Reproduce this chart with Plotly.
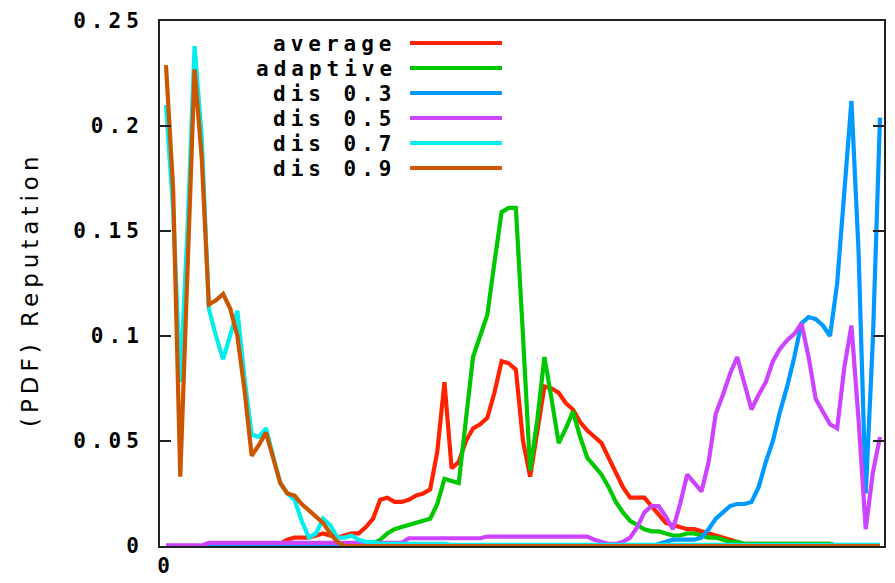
import plotly.graph_objects as go

# x grid: reputation 0.00 .. 1.00 in steps of 0.01
reputation = [round(i * 0.01, 2) for i in range(101)]

average = [
    0, 0, 0, 0, 0, 0, 0, 0, 0, 0,
    0, 0, 0, 0, 0, 0, 0.001, 0.003, 0.004, 0.004,
    0.004, 0.005, 0.006, 0.005, 0.004, 0.005, 0.006, 0.006, 0.009, 0.013,
    0.022, 0.023, 0.021, 0.021, 0.022, 0.024, 0.025, 0.027, 0.045, 0.078,
    0.037, 0.040, 0.050, 0.056, 0.058, 0.061, 0.073, 0.088, 0.087, 0.084,
    0.050, 0.033, 0.056, 0.076, 0.075, 0.073, 0.068, 0.065, 0.059, 0.055,
    0.052, 0.049, 0.042, 0.035, 0.028, 0.023, 0.023, 0.023, 0.019, 0.015,
    0.011, 0.010, 0.009, 0.008, 0.008, 0.007, 0.006, 0.005, 0.004, 0.003,
    0.002, 0.001, 0.001, 0.001, 0.001, 0.001, 0.001, 0.001, 0.001, 0.001,
    0.001, 0.001, 0.001, 0.001, 0, 0, 0, 0, 0, 0,
    0,
]

adaptive = [
    0, 0, 0, 0, 0, 0, 0, 0, 0, 0,
    0, 0, 0, 0, 0, 0, 0, 0, 0, 0,
    0, 0, 0, 0, 0, 0, 0, 0, 0, 0.001,
    0.003, 0.006, 0.008, 0.009, 0.010, 0.011, 0.012, 0.013, 0.020, 0.032,
    0.031, 0.030, 0.060, 0.090, 0.100, 0.110, 0.135, 0.159, 0.161, 0.161,
    0.100, 0.036, 0.060, 0.090, 0.070, 0.049, 0.056, 0.064, 0.052, 0.042,
    0.038, 0.034, 0.028, 0.021, 0.016, 0.012, 0.010, 0.008, 0.007, 0.007,
    0.006, 0.005, 0.005, 0.006, 0.006, 0.005, 0.004, 0.004, 0.003, 0.002,
    0.002, 0.001, 0.001, 0.001, 0.001, 0.001, 0.001, 0.001, 0.001, 0.001,
    0.001, 0.001, 0.001, 0.001, 0, 0, 0, 0, 0, 0,
    0,
]

dis_03 = [
    0, 0, 0, 0, 0, 0, 0, 0, 0, 0,
    0, 0, 0, 0, 0, 0, 0, 0, 0, 0,
    0, 0, 0, 0, 0, 0, 0, 0, 0, 0,
    0, 0, 0, 0, 0, 0, 0, 0, 0, 0,
    0, 0, 0, 0, 0, 0, 0, 0, 0, 0,
    0, 0, 0, 0, 0, 0, 0, 0, 0, 0,
    0, 0, 0, 0, 0, 0, 0, 0, 0, 0.001,
    0.002, 0.003, 0.003, 0.003, 0.003, 0.004, 0.008, 0.013, 0.016, 0.019,
    0.020, 0.020, 0.021, 0.028, 0.040, 0.050, 0.064, 0.076, 0.090, 0.106,
    0.109, 0.108, 0.105, 0.100, 0.125, 0.170, 0.212, 0.140, 0.025, 0.098,
    0.204,
]

dis_05 = [
    0.0003, 0.0003, 0.0003, 0.0003, 0.0003, 0.0003, 0.0015, 0.0015, 0.0015, 0.0015,
    0.0015, 0.0015, 0.0015, 0.0015, 0.0015, 0.0015, 0.0015, 0.0015, 0.0015, 0.0015,
    0.0015, 0.0015, 0.0015, 0.0015, 0.0015, 0.0015, 0.0015, 0.0015, 0.0015, 0.0015,
    0.0015, 0.0015, 0.0015, 0.0015, 0.0037, 0.0037, 0.0037, 0.0037, 0.0037, 0.0037,
    0.0037, 0.0037, 0.0037, 0.0037, 0.0037, 0.0045, 0.0045, 0.0045, 0.0045, 0.0045,
    0.0045, 0.0045, 0.0045, 0.0045, 0.0045, 0.0045, 0.0045, 0.0045, 0.0045, 0.0045,
    0.003, 0.002, 0.001, 0.001, 0.002, 0.004, 0.009, 0.016, 0.019, 0.019,
    0.014, 0.008, 0.020, 0.034, 0.030, 0.026, 0.040, 0.063, 0.072, 0.082,
    0.090, 0.077, 0.065, 0.072, 0.078, 0.088, 0.094, 0.098, 0.101, 0.106,
    0.090, 0.070, 0.064, 0.058, 0.056, 0.085, 0.105, 0.060, 0.008, 0.035,
    0.052,
]

dis_07 = [
    0.210, 0.160, 0.078, 0.150, 0.238, 0.195, 0.113, 0.100, 0.089, 0.100,
    0.112, 0.080, 0.053, 0.052, 0.056, 0.043, 0.030, 0.025, 0.022, 0.012,
    0.004, 0.006, 0.013, 0.010, 0.004, 0.004, 0.005, 0.003, 0.002, 0.002,
    0.001, 0.001, 0.001, 0.001, 0.001, 0.001, 0.001, 0.001, 0.001, 0.001,
    0.0005, 0.0005, 0.0005, 0.0005, 0.0005, 0.0005, 0.0005, 0.0005, 0.0005, 0.0005,
    0.0005, 0.0005, 0.0005, 0.0005, 0.0005, 0.0005, 0.0005, 0.0005, 0.0005, 0.0005,
    0.0005, 0.0005, 0.0005, 0.0005, 0.0005, 0.0005, 0.0005, 0.0005, 0.0005, 0.0005,
    0.0005, 0.0005, 0.0005, 0.0005, 0.0005, 0.0005, 0.0005, 0.0005, 0.0005, 0.0005,
    0.0005, 0.0005, 0.0005, 0.0005, 0.0005, 0.0005, 0.0005, 0.0005, 0.0005, 0.0005,
    0.0005, 0.0005, 0.0005, 0.0005, 0.0005, 0.0005, 0.0005, 0.0005, 0.0005, 0.0005,
    0.0005,
]

dis_09 = [
    0.229, 0.170, 0.033, 0.130, 0.227, 0.185, 0.115, 0.117, 0.120, 0.113,
    0.100, 0.074, 0.043, 0.048, 0.054, 0.042, 0.030, 0.025, 0.024, 0.020,
    0.017, 0.014, 0.011, 0.006, 0.002, 0, 0, 0, 0, 0,
    0, 0, 0, 0, 0, 0, 0, 0, 0, 0,
    0, 0, 0, 0, 0, 0, 0, 0, 0, 0,
    0, 0, 0, 0, 0, 0, 0, 0, 0, 0,
    0, 0, 0, 0, 0, 0, 0, 0, 0, 0,
    0, 0, 0, 0, 0, 0, 0, 0, 0, 0,
    0, 0, 0, 0, 0, 0, 0, 0, 0, 0,
    0, 0, 0, 0, 0, 0, 0, 0, 0, 0,
    0,
]

series_names = ["average", "adaptive", "dis 0.3", "dis 0.5", "dis 0.7", "dis 0.9"]
series_values = [average, adaptive, dis_03, dis_05, dis_07, dis_09]
series_colors = ["#ff2200", "#00c800", "#0099ff", "#cc44ff", "#00eeee", "#cc5500"]

y_tick_vals = [0, 0.05, 0.1, 0.15, 0.2, 0.25]
y_tick_text = ["0", "0.05", "0.1", "0.15", "0.2", "0.25"]
x_tick_vals = [0]
x_tick_text = ["0"]
y_title = "(PDF) Reputation"

MONO = "DejaVu Sans Mono"
FRAME = "#222222"


def spaced(s, ls):
    return f'<span style="letter-spacing:{ls}px">{s}</span>'


fig = go.Figure()
for name, vals, col in zip(series_names, series_values, series_colors):
    fig.add_trace(go.Scatter(
        x=reputation, y=vals, mode="lines", name=name,
        line=dict(color=col, width=4.2), showlegend=False,
    ))

# the page body has an 8px margin, so the figure is shifted by (8, 8)
OFF = 8
FIG_W, FIG_H = 895 - OFF, 583 - OFF
# desired plot-area edges in window pixels
L, R, T, B = 160, 884, 21, 546
W, H = R - L, B - T


def px(xp):
    return (xp - L) / W


def py(yp):
    return (B - yp) / H


# gnuplot-style key: right-aligned labels with the line sample on the right
key_rows = [43, 68, 93, 118, 143, 168]
annotations = []
shapes = []
for name, col, yr in zip(series_names, series_colors, key_rows):
    annotations.append(dict(
        x=px(399), y=py(yr + 1), xref="paper", yref="paper",
        text=spaced(name, 5), showarrow=False, xanchor="right", yanchor="middle",
        font=dict(family=MONO, size=21, color="black", weight="bold"),
    ))
    shapes.append(dict(
        type="line", xref="paper", yref="paper",
        x0=px(410), x1=px(502), y0=py(yr), y1=py(yr),
        line=dict(color=col, width=4.2),
    ))

annotations.append(dict(
    x=px(30), y=py(289), xref="paper", yref="paper", text=spaced(y_title, 5),
    textangle=-90, showarrow=False, xanchor="center", yanchor="middle",
    font=dict(family="DejaVu Sans", size=23, color="black"),
))

fig.update_layout(
    width=FIG_W, height=FIG_H, autosize=False,
    margin=dict(l=L - OFF, r=895 - R, t=T - OFF, b=583 - B, pad=0),
    paper_bgcolor="white", plot_bgcolor="white",
    annotations=annotations, shapes=shapes,
    xaxis=dict(
        range=[-6 / 714, 718 / 714], tickmode="array",
        tickvals=x_tick_vals, ticktext=[spaced(t, 5) for t in x_tick_text],
        ticks="", showgrid=False, zeroline=False, automargin=False,
        showline=True, mirror=True, linecolor=FRAME, linewidth=2,
        tickfont=dict(family=MONO, size=21, color="black", weight="bold"),
        ticklabelstandoff=0,
    ),
    yaxis=dict(
        range=[0, 0.25], tickmode="array",
        tickvals=y_tick_vals, ticktext=[spaced(t, 5) for t in y_tick_text],
        ticks="inside", ticklen=11, tickwidth=2, tickcolor=FRAME,
        showgrid=False, zeroline=False, automargin=False,
        showline=True, mirror="allticks", linecolor=FRAME, linewidth=2,
        tickfont=dict(family=MONO, size=21, color="black", weight="bold"),
        ticklabelstandoff=10,
    ),
)

fig.write_html("out.html")
